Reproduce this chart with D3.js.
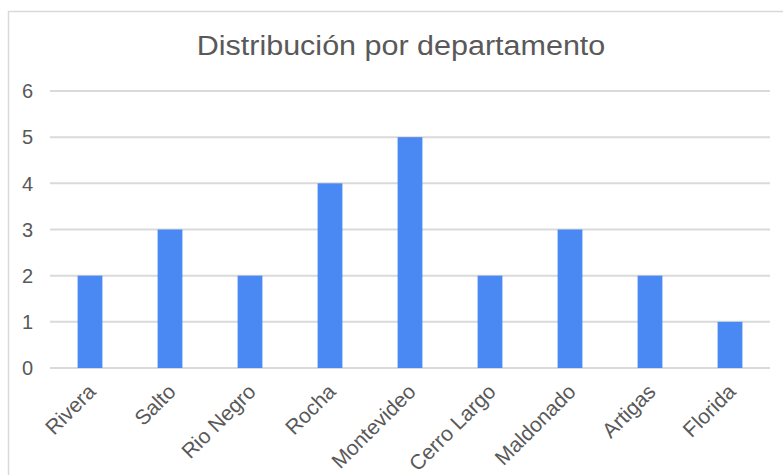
<!DOCTYPE html>
<html>
<head>
<meta charset="utf-8">
<script src="https://cdn.jsdelivr.net/npm/d3@7"></script>
<style>
  body { margin: 0; background: #fff; }
  text { font-family: "Liberation Sans", Arial, sans-serif; fill: #595959; }
</style>
</head>
<body>
<div id="chart"></div>
<script>
// data
const departamentos = ["Rivera", "Salto", "Rio Negro", "Rocha", "Montevideo", "Cerro Largo", "Maldonado", "Artigas", "Florida"];
const cantidades = [2, 3, 2, 4, 5, 2, 3, 2, 1];
const yTicks = [0, 1, 2, 3, 4, 5, 6];

const width = 783, height = 475;
const margin = {top: 91, right: 13, bottom: 107, left: 50};

const svg = d3.select("#chart").append("svg")
    .attr("width", width)
    .attr("height", height);

// chart frame (right / bottom edges fall outside the picture)
svg.append("rect")
    .attr("x", 8.5).attr("y", 11.5)
    .attr("width", 800).attr("height", 500)
    .attr("fill", "none")
    .attr("stroke", "#d9d9d9")
    .attr("stroke-width", 1.5);

// title, a bit wider than the font gives
svg.append("text")
    .attr("transform", "translate(401,55) scale(1.09,1)")
    .attr("text-anchor", "middle")
    .style("font-size", "28px")
    .text("Distribución por departamento");

const x = d3.scaleBand()
    .domain(departamentos)
    .range([margin.left, width - margin.right])
    .paddingInner(0.69)
    .paddingOuter(0.345);

const y = d3.scaleLinear()
    .domain([0, 6])
    .range([height - margin.bottom, margin.top]);

// gridlines
svg.append("g")
    .selectAll("line")
    .data(yTicks)
    .join("line")
    .attr("x1", margin.left)
    .attr("x2", width - margin.right)
    .attr("y1", d => y(d))
    .attr("y2", d => y(d))
    .attr("stroke", "#dadada")
    .attr("stroke-width", 2);

// y labels
svg.append("g")
    .selectAll("text")
    .data(yTicks)
    .join("text")
    .attr("x", 33)
    .attr("y", d => y(d))
    .attr("dy", "0.36em")
    .attr("text-anchor", "end")
    .style("font-size", "20px")
    .text(d => d);

// x labels, rotated
svg.append("g")
    .selectAll("text")
    .data(departamentos)
    .join("text")
    .attr("transform", d => "translate(" + (x(d) + x.bandwidth() / 2 + 7) + "," + (y(0) + 25) + ") rotate(-45)")
    .attr("text-anchor", "end")
    .style("font-size", "21px")
    .text(d => d);

// bars
svg.append("g")
    .selectAll("rect")
    .data(departamentos)
    .join("rect")
    .attr("x", d => x(d))
    .attr("width", x.bandwidth())
    .attr("y", (d, i) => y(cantidades[i]))
    .attr("height", (d, i) => y(0) - y(cantidades[i]))
    .attr("fill", "#4a89f3");
</script>
</body>
</html>
